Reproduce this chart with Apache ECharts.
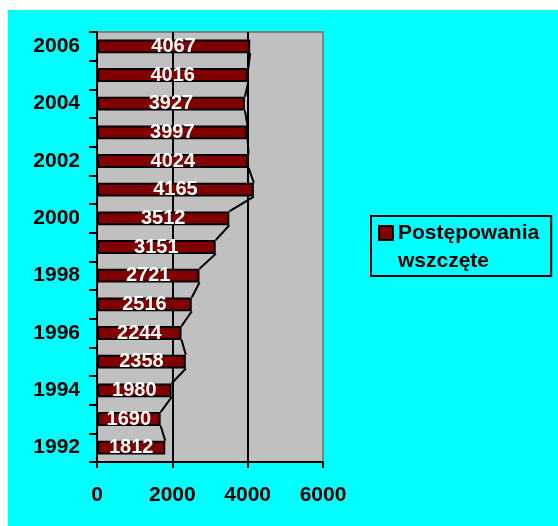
<!DOCTYPE html>
<html>
<head>
    <meta charset="utf-8">
    <title>Postępowania wszczęte</title>
    <script src="https://cdn.jsdelivr.net/npm/echarts@6/dist/echarts.min.js"></script>
    <style type="text/css">
        html, body {margin:0; padding:0; background-color:#ffffff;}
        #container {position:absolute; left:8px; top:10px; width:550px; height:516px;}
    </style>
</head>
<body>
<div id="container"></div>
<script type="text/javascript">
    // dane z wykresu
    var years = ['1992','1993','1994','1995','1996','1997','1998','1999','2000','2001','2002','2003','2004','2005','2006'];
    var values = [1812, 1690, 1980, 2358, 2244, 2516, 2721, 3151, 3512, 4165, 4024, 3997, 3927, 4016, 4067];
    var xTicks = [0, 2000, 4000, 6000];
    var seriesName = 'Postępowania wszczęte';

    var font = "'Liberation Sans', Arial, sans-serif";
    var barRatio = 0.48;

    // odcinki łączące końce słupków
    var links = [];
    for (var i = 0; i < values.length - 1; i++) {
        links.push([values[i], i, values[i + 1]]);
    }

    var chart = echarts.init(document.getElementById('container'));
    var option = {
        backgroundColor: '#00FFFF',
        animation: false,
        grid: {
            left: 89, top: 22, right: 235, bottom: 64,
            show: true,
            backgroundColor: '#C0C0C0',
            borderColor: '#808080',
            borderWidth: 2
        },
        legend: {
            left: 363, top: 206,
            orient: 'vertical',
            data: [seriesName],
            backgroundColor: '#00FFFF',
            borderColor: '#000000',
            borderWidth: 2,
            borderRadius: 0,
            padding: [3, 12, 1, 7],
            itemWidth: 14,
            itemHeight: 42,
            icon: 'path://M0,0H14V14H0Z M0,42L0,42',
            formatter: function () { return 'Postępowania\nwszczęte'; },
            textStyle: {
                color: '#000000',
                fontFamily: font,
                fontWeight: 'bold',
                fontSize: 21,
                lineHeight: 28
            }
        },
        xAxis: {
            type: 'value',
            min: xTicks[0],
            max: xTicks[xTicks.length - 1],
            interval: 2000,
            axisLine: { show: true, lineStyle: { color: '#000000', width: 2 } },
            axisTick: { show: true, length: 6, lineStyle: { color: '#000000', width: 2 } },
            axisLabel: {
                margin: 23,
                color: '#000000',
                fontFamily: font,
                fontWeight: 'bold',
                fontSize: 21,
                formatter: function (v) { return String(v); }
            },
            splitLine: {
                show: true,
                lineStyle: { color: ['#000000', '#000000', '#000000', '#808080'], width: 2 }
            }
        },
        yAxis: {
            type: 'category',
            data: years,
            axisLine: { show: true, lineStyle: { color: '#000000', width: 2 } },
            axisTick: { show: true, interval: 0, length: 8, lineStyle: { color: '#000000', width: 2 } },
            axisLabel: {
                interval: 1,
                margin: 17,
                color: '#000000',
                fontFamily: font,
                fontWeight: 'bold',
                fontSize: 21
            },
            splitLine: { show: false }
        },
        series: [
            {
                name: seriesName,
                type: 'bar',
                data: values,
                barWidth: (barRatio * 100) + '%',
                itemStyle: { color: '#800000', borderColor: '#000000', borderWidth: 2 },
                label: {
                    show: true,
                    position: 'inside',
                    color: '#FFFFFF',
                    fontFamily: font,
                    fontWeight: 'bold',
                    fontSize: 20
                },
                z: 2
            },
            {
                name: 'links',
                type: 'custom',
                data: links,
                encode: { x: 0, y: 1 },
                silent: true,
                z: 3,
                renderItem: function (params, api) {
                    var h = api.size([0, 1])[1] * barRatio / 2;
                    var p1 = api.coord([api.value(0), api.value(1)]);
                    var p2 = api.coord([api.value(2), api.value(1) + 1]);
                    return {
                        type: 'line',
                        shape: { x1: p1[0], y1: p1[1] - h, x2: p2[0], y2: p2[1] + h },
                        style: { stroke: '#000000', lineWidth: 2 }
                    };
                }
            }
        ]
    };
    chart.setOption(option);
</script>
</body>
</html>
